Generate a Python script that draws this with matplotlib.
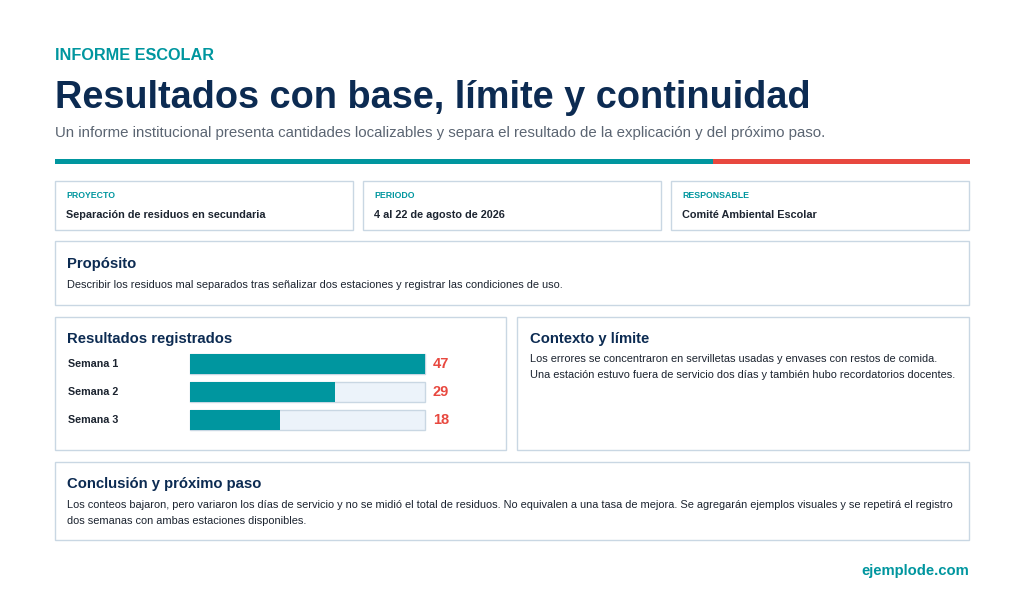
import matplotlib
matplotlib.use("Agg")
import matplotlib.pyplot as plt
from matplotlib.patches import Rectangle
from matplotlib.transforms import blended_transform_factory

plt.rcParams['font.family'] = ['Liberation Sans', 'DejaVu Sans']

TEAL = '#00969f'
NAVY = '#0c2b52'
RED = '#e8483f'
GRAY = '#5b6572'
BORDER = '#c9d7e3'
TRACK = '#ecf3fa'
TEXT = '#1c2430'

eyebrow = "INFORME ESCOLAR"
title = "Resultados con base, límite y continuidad"
subtitle = ("Un informe institucional presenta cantidades localizables y separa "
            "el resultado de la explicación y del próximo paso.")
meta_labels = ["PROYECTO", "PERIODO", "RESPONSABLE"]
meta_values = ["Separación de residuos en secundaria", "4 al 22 de agosto de 2026",
               "Comité Ambiental Escolar"]
purpose = "Describir los residuos mal separados tras señalizar dos estaciones y registrar las condiciones de uso."
weeks = ["Semana 1", "Semana 2", "Semana 3"]
counts = [47, 29, 18]
context_lines = ["Los errores se concentraron en servilletas usadas y envases con restos de comida.",
                 "Una estación estuvo fuera de servicio dos días y también hubo recordatorios docentes."]
conclusion_lines = ["Los conteos bajaron, pero variaron los días de servicio y no se midió el total de residuos. "
                    "No equivalen a una tasa de mejora. Se agregarán ejemplos visuales y se repetirá el registro",
                    "dos semanas con ambas estaciones disponibles."]
footer = "ejemplode.com"

W, H = 1024, 604
fig = plt.figure(figsize=(W / 100, H / 100), dpi=100)
ax = fig.add_axes([0, 0, 1, 1])
ax.set_xlim(0, W)
ax.set_ylim(H, 0)
ax.axis('off')

BODY = 7.95
HEAD = 10.7


def card(x0, y0, x1, y1):
    ax.add_patch(Rectangle((x0, y0), x1 - x0, y1 - y0, facecolor='white',
                           edgecolor=BORDER, linewidth=1.0))


# header
ax.text(55, 56, eyebrow, color=TEAL, fontsize=11.7, fontweight='bold', va='center')
ax.text(55, 107.5, title, color=NAVY, fontsize=27.3, fontweight='bold', va='baseline')
ax.text(55, 133, subtitle, color=GRAY, fontsize=10.8, va='center')
ax.add_patch(Rectangle((55, 159), 658, 5, facecolor=TEAL, edgecolor='none'))
ax.add_patch(Rectangle((713, 159), 257, 5, facecolor=RED, edgecolor='none'))

# meta cards
for i, (lab, val) in enumerate(zip(meta_labels, meta_values)):
    x0 = 55 + i * 308
    card(x0, 181, x0 + 298, 230)
    ax.text(x0 + 11, 195.5, lab, color=TEAL, fontsize=6.3, fontweight='bold', va='center')
    ax.text(x0 + 11, 214.5, val, color=TEXT, fontsize=7.85, fontweight='bold', va='center')

# purpose
card(55, 241, 969, 305)
ax.text(67, 264, "Propósito", color=NAVY, fontsize=HEAD, fontweight='bold', va='center')
ax.text(67, 285.5, purpose, color=TEXT, fontsize=BODY, va='center')

# results card
card(55, 317, 506, 450)
ax.text(67, 339, "Resultados registrados", color=NAVY, fontsize=HEAD, fontweight='bold', va='center')

bx = fig.add_axes([190 / W, 1 - 434 / H, 235 / W, 84 / H])
bx.set_xlim(0, max(counts))
bx.set_ylim(len(weeks) - 0.5, -0.5)
bx.axis('off')
rows = list(range(len(weeks)))
tracks = bx.barh(rows, [max(counts)] * len(weeks), height=0.68, color=TRACK,
                 edgecolor=BORDER, linewidth=1.0)
for p in tracks:
    p.set_clip_on(False)
bx.barh(rows, counts, height=0.68, color=TEAL, edgecolor='none')
lab_tr = blended_transform_factory(ax.transData, bx.transData)
for r, w, c in zip(rows, weeks, counts):
    bx.text(68, r, w, transform=lab_tr, color=TEXT, fontsize=7.75,
            fontweight='bold', va='center')
    bx.annotate(str(c), xy=(max(counts), r), xytext=(5.5, 0), textcoords='offset points',
                color=RED, fontsize=10.5, fontweight='bold', va='center')

# context card
card(517, 317, 969, 450)
ax.text(530, 339, "Contexto y límite", color=NAVY, fontsize=HEAD, fontweight='bold', va='center')
for k, line in enumerate(context_lines):
    ax.text(530, 359.5 + k * 16, line, color=TEXT, fontsize=BODY, va='center')

# conclusion card
card(55, 462, 969, 540)
ax.text(67, 484, "Conclusión y próximo paso", color=NAVY, fontsize=HEAD, fontweight='bold', va='center')
for k, line in enumerate(conclusion_lines):
    ax.text(67, 505.5 + k * 15, line, color=TEXT, fontsize=BODY, va='center')

ax.text(969, 571.5, footer, color=TEAL, fontsize=10.7, fontweight='bold', va='center', ha='right')

fig.savefig("out.png", dpi=100, facecolor='white')
